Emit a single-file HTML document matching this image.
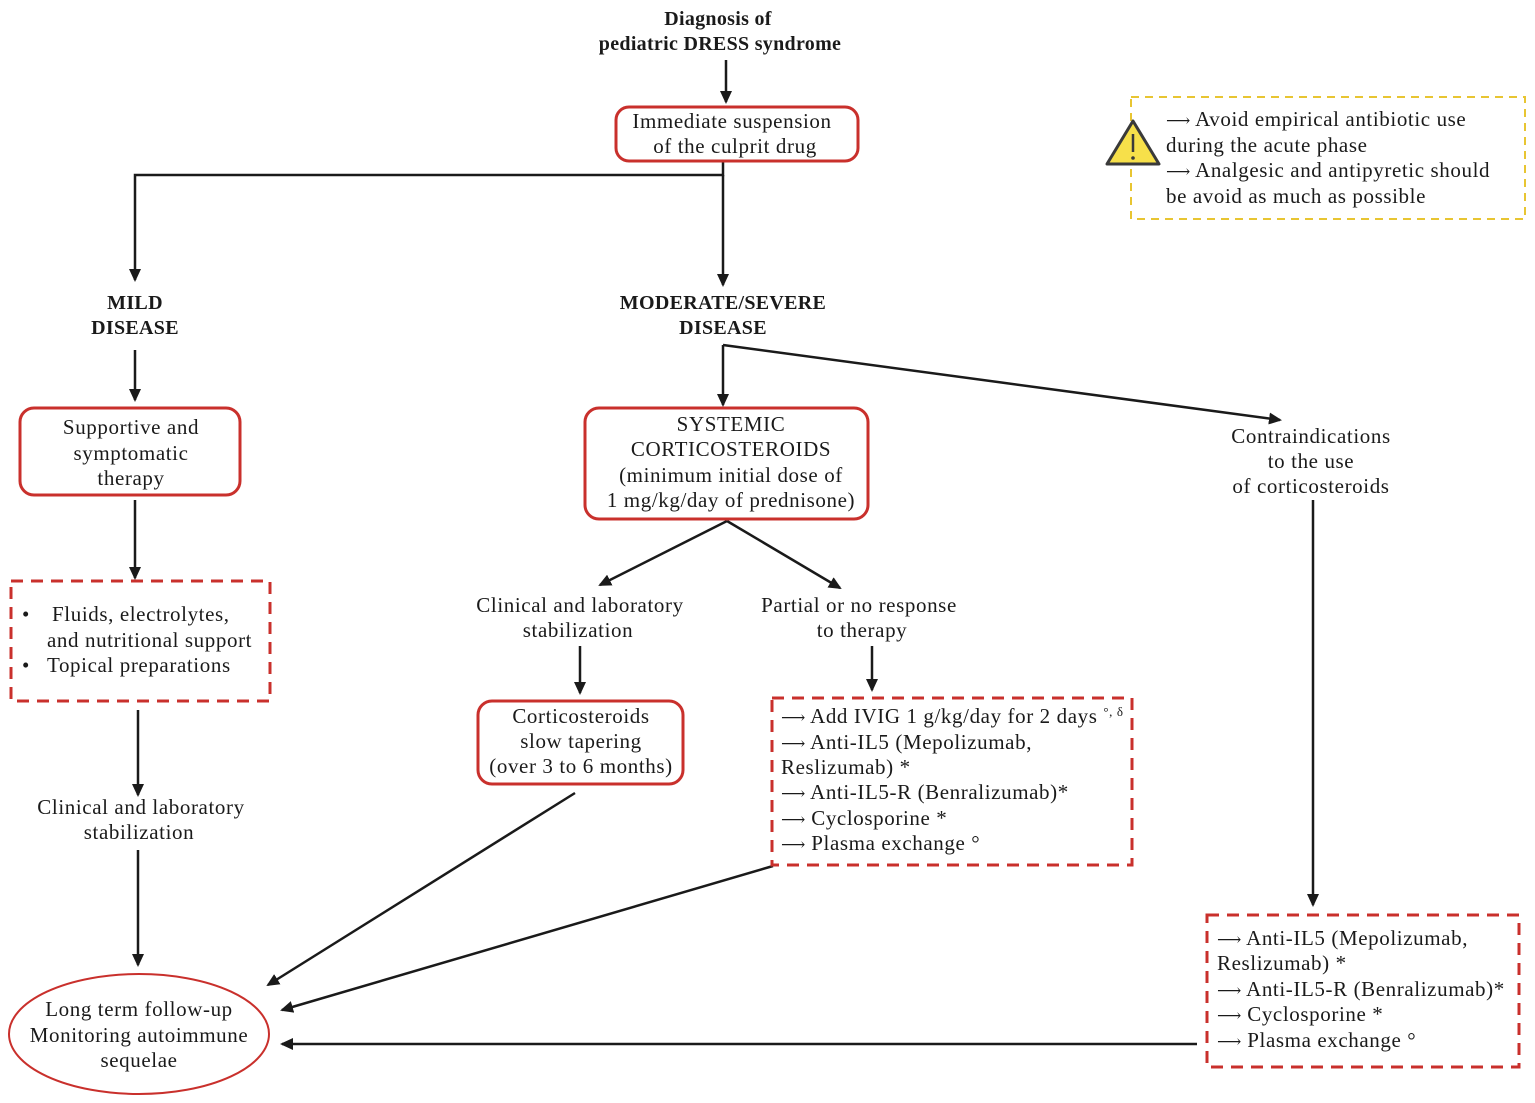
<!DOCTYPE html>
<html><head><meta charset="utf-8"><style>
html,body{margin:0;padding:0;background:#fff;}
svg{display:block;}
text{font-family:"Liberation Serif",serif;font-size:21px;letter-spacing:0.6px;fill:#1a1a1a;}
.b{font-weight:bold;font-size:20px;letter-spacing:0.3px;}
.c{text-anchor:middle;}
.ar{font-family:"DejaVu Serif",serif;font-size:17px;letter-spacing:0;}
</style></head><body>
<svg width="1535" height="1103" viewBox="0 0 1535 1103" xmlns="http://www.w3.org/2000/svg">
<defs><marker id="a" markerWidth="13" markerHeight="12" refX="11" refY="6" orient="auto" markerUnits="userSpaceOnUse"><path d="M0,0 L13,6 L0,12 z" fill="#1a1a1a"/></marker></defs>
<g stroke="#1a1a1a" stroke-width="2.5" fill="none">
<line x1="726" y1="60" x2="726" y2="102" marker-end="url(#a)"/>
<polyline points="723,162 723,175 135,175 135,280" marker-end="url(#a)"/>
<line x1="723" y1="175" x2="723" y2="285" marker-end="url(#a)"/>
<line x1="135" y1="350" x2="135" y2="400" marker-end="url(#a)"/>
<line x1="135" y1="500" x2="135" y2="578" marker-end="url(#a)"/>
<line x1="138" y1="710" x2="138" y2="795" marker-end="url(#a)"/>
<line x1="138" y1="850" x2="138" y2="965" marker-end="url(#a)"/>
<polyline points="723,345 723,405" marker-end="url(#a)"/>
<line x1="723" y1="345" x2="1280" y2="420" marker-end="url(#a)"/>
<line x1="727" y1="521" x2="600" y2="585" marker-end="url(#a)"/>
<line x1="727" y1="521" x2="840" y2="588" marker-end="url(#a)"/>
<line x1="580" y1="646" x2="580" y2="693" marker-end="url(#a)"/>
<line x1="872" y1="646" x2="872" y2="690" marker-end="url(#a)"/>
<line x1="1313" y1="500" x2="1313" y2="905" marker-end="url(#a)"/>
<line x1="575" y1="793" x2="268" y2="985" marker-end="url(#a)"/>
<line x1="773" y1="866" x2="282" y2="1010" marker-end="url(#a)"/>
<line x1="1197" y1="1044" x2="282" y2="1044" marker-end="url(#a)"/>
</g>
<g stroke="#c9302c" stroke-width="3" fill="#fff">
<rect x="616" y="107" width="242" height="54" rx="13"/>
<rect x="20" y="408" width="220" height="87" rx="14"/>
<rect x="585" y="408" width="283" height="111" rx="14"/>
<rect x="478" y="701" width="205" height="83" rx="14"/>
<ellipse cx="139" cy="1034" rx="130" ry="60" stroke-width="2"/>
<g stroke-dasharray="12,8">
<rect x="11" y="581" width="259" height="120"/>
<rect x="772" y="698" width="360" height="167"/>
<rect x="1207" y="915" width="312" height="152"/>
</g>
</g>
<rect x="1131" y="97" width="394" height="122" fill="none" stroke="#e8c532" stroke-width="2" stroke-dasharray="8,6"/>
<path d="M1133,121 L1159,164 L1107,164 Z" fill="#f7e04a" stroke="#3a3a3a" stroke-width="3" stroke-linejoin="round"/>
<line x1="1133" y1="134" x2="1133" y2="152" stroke="#3a3a3a" stroke-width="2.5"/>
<circle cx="1133" cy="158" r="1.8" fill="#3a3a3a"/>

<text class="b c" x="718" y="25">Diagnosis of</text>
<text class="b c" x="720" y="50">pediatric DRESS syndrome</text>
<text class="c" x="732" y="128">Immediate suspension</text>
<text class="c" x="735" y="153">of the culprit drug</text>
<text class="b c" x="135" y="309">MILD</text>
<text class="b c" x="135" y="334">DISEASE</text>
<text class="b c" x="723" y="309">MODERATE/SEVERE</text>
<text class="b c" x="723" y="334">DISEASE</text>
<text class="c" x="131" y="434">Supportive and</text>
<text class="c" x="131" y="460">symptomatic</text>
<text class="c" x="131" y="485">therapy</text>
<text x="22" y="621">•</text><text x="52" y="621">Fluids, electrolytes,</text>
<text x="47" y="647">and nutritional support</text>
<text x="22" y="672">•</text><text x="47" y="672">Topical preparations</text>
<text class="c" x="141" y="814">Clinical and laboratory</text>
<text class="c" x="139" y="839">stabilization</text>
<text class="c" x="139" y="1016">Long term follow-up</text>
<text class="c" x="139" y="1042">Monitoring autoimmune</text>
<text class="c" x="139" y="1067">sequelae</text>
<text class="c" x="731" y="431">SYSTEMIC</text>
<text class="c" x="731" y="456">CORTICOSTEROIDS</text>
<text class="c" x="731" y="482">(minimum initial dose of</text>
<text class="c" x="731" y="507">1 mg/kg/day of prednisone)</text>
<text class="c" x="580" y="612">Clinical and laboratory</text>
<text class="c" x="578" y="637">stabilization</text>
<text class="c" x="859" y="612">Partial or no response</text>
<text class="c" x="862" y="637">to therapy</text>
<text class="c" x="581" y="723">Corticosteroids</text>
<text class="c" x="581" y="748">slow tapering</text>
<text class="c" x="581" y="773">(over 3 to 6 months)</text>
<text x="781" y="723"><tspan class="ar">⟶</tspan> Add IVIG 1 g/kg/day for 2 days <tspan font-size="13" dy="-7">°, δ</tspan></text>
<text x="781" y="749"><tspan class="ar">⟶</tspan> Anti-IL5 (Mepolizumab,</text>
<text x="781" y="774">Reslizumab) *</text>
<text x="781" y="799"><tspan class="ar">⟶</tspan> Anti-IL5-R (Benralizumab)*</text>
<text x="781" y="825"><tspan class="ar">⟶</tspan> Cyclosporine *</text>
<text x="781" y="850"><tspan class="ar">⟶</tspan> Plasma exchange °</text>
<text class="c" x="1311" y="443">Contraindications</text>
<text class="c" x="1311" y="468">to the use</text>
<text class="c" x="1311" y="493">of corticosteroids</text>
<text x="1217" y="945"><tspan class="ar">⟶</tspan> Anti-IL5 (Mepolizumab,</text>
<text x="1217" y="970">Reslizumab) *</text>
<text x="1217" y="996"><tspan class="ar">⟶</tspan> Anti-IL5-R (Benralizumab)*</text>
<text x="1217" y="1021"><tspan class="ar">⟶</tspan> Cyclosporine *</text>
<text x="1217" y="1047"><tspan class="ar">⟶</tspan> Plasma exchange °</text>
<text x="1166" y="126"><tspan class="ar">⟶</tspan>   Avoid    empirical    antibiotic use</text>
<text x="1166" y="152">during the acute phase</text>
<text x="1166" y="177"><tspan class="ar">⟶</tspan> Analgesic and antipyretic should</text>
<text x="1166" y="203">be avoid as much as possible</text>
</svg>
</body></html>
